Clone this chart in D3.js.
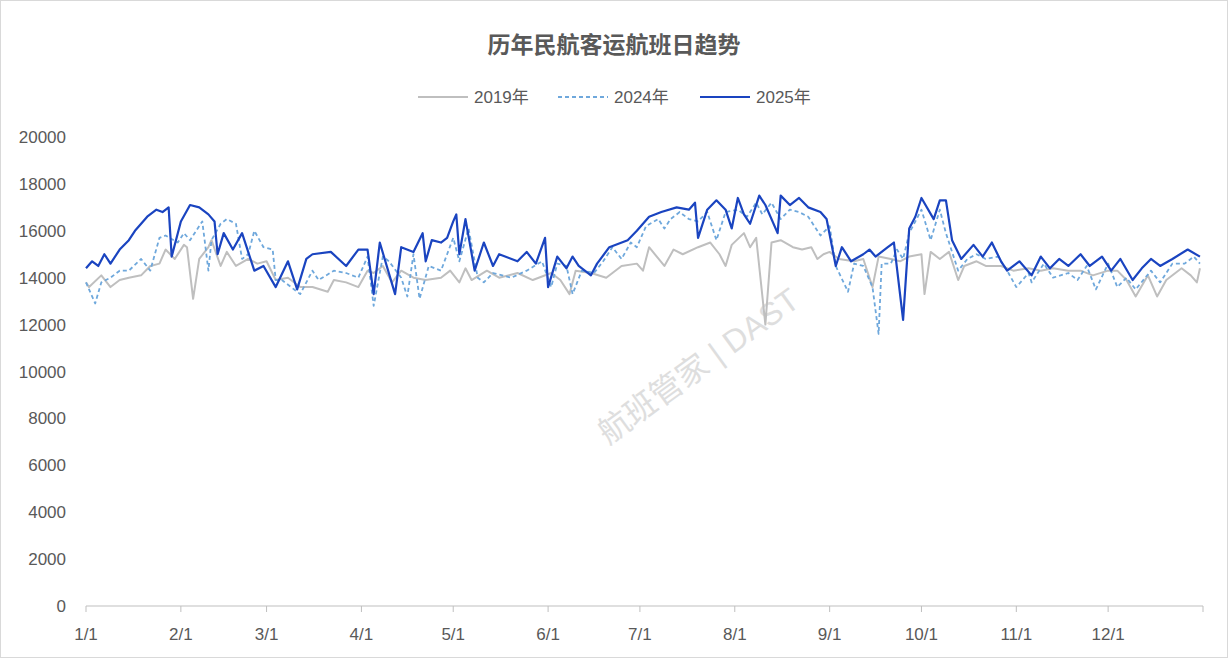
<!DOCTYPE html>
<html><head><meta charset="utf-8">
<script src="https://cdn.jsdelivr.net/npm/d3@7"></script>
<style>body{margin:0;background:#fff}text{font-family:"Liberation Sans","Noto Sans CJK SC",sans-serif}</style>
</head><body><svg id="c" width="1228" height="658"></svg>
<script>
// [day of year, flights]
const s2019 = [[0,13800],[1,13600],[5,14100],[8,13600],[11,13900],[14,14000],[18,14100],[21,14500],[24,14600],[26,15200],[29,14800],[32,15400],[33,15300],[35,13100],[37,14800],[40,15300],[41,15600],[44,14500],[46,15100],[49,14500],[53,14800],[56,14600],[59,14700],[62,13900],[66,14000],[70,13600],[74,13600],[79,13400],[81,13900],[85,13800],[89,13600],[92,14300],[94,14200],[97,14500],[100,13800],[103,14300],[107,14000],[111,13900],[116,14000],[119,14300],[122,13800],[124,14400],[126,13900],[131,14300],[135,14000],[141,14200],[146,13900],[152,14200],[155,13900],[158,13300],[160,14300],[165,14200],[170,14000],[175,14500],[180,14600],[182,14300],[184,15300],[189,14500],[192,15200],[195,15000],[200,15300],[204,15500],[207,15000],[209,14500],[211,15400],[215,15900],[217,15300],[219,15700],[222,12000],[224,15500],[227,15600],[231,15300],[234,15200],[237,15300],[239,14800],[241,15000],[243,15100],[246,14800],[251,14700],[254,14800],[257,13600],[259,14900],[263,14800],[266,14700],[269,14900],[273,15000],[274,13300],[276,15100],[279,14800],[282,15100],[285,13900],[287,14500],[291,14700],[294,14500],[299,14500],[303,14300],[308,14400],[312,14300],[316,14400],[321,14300],[325,14300],[329,14100],[334,14300],[337,14300],[340,13900],[343,13200],[347,14100],[350,13200],[353,13900],[358,14400],[361,14100],[363,13800],[364,14400]];
const s2024 = [[0,13800],[3,12900],[5,13800],[8,14000],[11,14300],[14,14300],[18,14800],[21,14300],[24,15700],[26,15800],[30,15500],[32,15900],[34,15600],[36,16000],[38,16400],[40,14300],[41,15600],[44,16300],[46,16500],[49,16300],[51,14800],[53,15000],[55,16000],[58,15300],[61,15200],[62,13900],[64,13900],[67,13600],[70,13300],[74,14300],[76,13900],[81,14300],[85,14200],[89,14000],[92,14900],[94,12800],[97,14900],[99,14700],[103,14000],[105,13200],[107,15000],[109,13100],[112,14500],[116,14300],[118,15000],[120,15700],[122,14700],[125,16100],[128,14000],[130,13800],[133,14200],[139,14000],[144,14300],[149,14700],[152,13600],[154,14600],[157,14500],[159,13300],[162,14300],[166,14200],[169,14700],[172,15300],[175,14800],[178,15500],[180,15300],[183,16200],[187,16500],[189,16100],[191,16500],[194,16800],[197,16500],[200,16400],[203,16800],[206,15600],[209,16800],[213,16900],[216,16600],[219,17200],[221,16700],[224,17200],[227,16500],[230,16900],[233,16800],[236,16600],[240,15800],[243,16200],[245,14500],[249,13400],[251,14600],[254,14500],[257,13600],[259,11600],[260,14600],[263,14600],[265,15200],[267,14800],[269,15900],[273,16900],[276,15600],[279,16900],[281,15900],[285,14300],[288,14800],[291,15000],[294,14800],[298,14900],[301,14300],[304,13600],[308,14200],[309,13800],[313,14600],[316,14000],[321,14200],[324,13900],[327,14500],[330,13500],[334,14600],[337,13600],[340,14000],[343,13500],[348,14300],[351,13800],[355,14600],[359,14600],[362,14900],[364,14600]];
const s2025 = [[0,14400],[2,14700],[4,14500],[6,15000],[8,14600],[11,15200],[14,15600],[16,16000],[20,16600],[23,16900],[25,16800],[27,17000],[28,14900],[31,16400],[34,17100],[37,17000],[40,16700],[42,16400],[43,15000],[45,15900],[48,15200],[51,15900],[55,14300],[58,14500],[62,13600],[66,14700],[69,13500],[72,14800],[74,15000],[80,15100],[85,14500],[89,15200],[92,15200],[94,13300],[96,15500],[101,13300],[103,15300],[107,15100],[110,15900],[111,14700],[113,15600],[116,15500],[118,15700],[120,16400],[121,16700],[122,15000],[124,16500],[127,14300],[130,15500],[133,14500],[135,15000],[141,14700],[144,15100],[147,14600],[150,15700],[151,13600],[154,14900],[157,14400],[159,14900],[161,14500],[165,14100],[167,14600],[171,15300],[177,15600],[180,16000],[184,16600],[188,16800],[193,17000],[197,16900],[199,17200],[200,15700],[203,16900],[206,17300],[209,16900],[211,16100],[213,17400],[215,16700],[217,16300],[220,17500],[222,17100],[226,15900],[227,17500],[230,17100],[233,17400],[236,17000],[240,16800],[242,16500],[245,14500],[247,15300],[250,14700],[254,15000],[256,15200],[258,14900],[262,15300],[264,15500],[267,12200],[269,16100],[271,16600],[273,17400],[277,16500],[279,17300],[281,17300],[283,15600],[286,14800],[290,15400],[293,14900],[296,15500],[299,14700],[301,14300],[305,14700],[309,14100],[312,14900],[315,14400],[318,14800],[321,14500],[325,15000],[328,14500],[332,14900],[335,14300],[338,14800],[342,13900],[345,14400],[348,14800],[351,14500],[355,14800],[360,15200],[364,14900]];
const monthStarts = [0,31,59,90,120,151,181,212,243,273,304,334];
const monthLabels = ["1/1","2/1","3/1","4/1","5/1","6/1","7/1","8/1","9/1","10/1","11/1","12/1"];
const yTicks = [0,2000,4000,6000,8000,10000,12000,14000,16000,18000,20000];

const svg = d3.select('#c');
const x = d3.scaleLinear().domain([0,365]).range([86,1203]);
const y = d3.scaleLinear().domain([0,20000]).range([606,137]);

svg.append('rect').attr('x',0.5).attr('y',0.5).attr('width',1227).attr('height',657)
  .attr('fill','none').attr('stroke','#d9d9d9');

svg.append('text').attr('x',614).attr('y',53).attr('text-anchor','middle')
  .attr('font-size',23).attr('font-weight','bold').attr('fill','#595959')
  .style('font-family','"Noto Sans CJK SC",sans-serif').text('历年民航客运航班日趋势');

// watermark
svg.append('text').attr('transform','translate(705,375) rotate(-36)').attr('text-anchor','middle')
  .attr('font-size',32).attr('fill','#dedede').text('航班管家 | DAST');

// y labels
svg.append('g').selectAll('text').data(yTicks).enter().append('text')
  .attr('x',66).attr('y',d => y(d)+6).attr('text-anchor','end')
  .attr('font-size',17).attr('fill','#595959').text(d => d);

// x axis
svg.append('line').attr('x1',x(0)).attr('x2',x(365)).attr('y1',606).attr('y2',606).attr('stroke','#bfbfbf');
svg.append('g').selectAll('line').data(monthStarts.concat([365])).enter().append('line')
  .attr('x1',d => x(d)).attr('x2',d => x(d)).attr('y1',606).attr('y2',612).attr('stroke','#bfbfbf');
svg.append('g').selectAll('text').data(monthStarts).enter().append('text')
  .attr('x',d => x(d)).attr('y',640).attr('text-anchor','middle')
  .attr('font-size',17).attr('fill','#595959').text((d,i) => monthLabels[i]);

const line = d3.line().x(d => x(d[0])).y(d => y(d[1]));
const series = [
  {name:'2019年', data:s2019, color:'#bfbfbf', dash:null, w:2},
  {name:'2024年', data:s2024, color:'#6fa8dc', dash:'4,3', w:1.8},
  {name:'2025年', data:s2025, color:'#1a44c0', dash:null, w:2.2}
];
series.forEach(s => {
  svg.append('path').attr('d', line(s.data)).attr('fill','none').attr('stroke',s.color)
    .attr('stroke-width',s.w).attr('stroke-dasharray',s.dash).attr('stroke-linejoin','round');
});

// legend
const lx = [418,558,700];
series.forEach((s,i) => {
  svg.append('line').attr('x1',lx[i]).attr('x2',lx[i]+50).attr('y1',97).attr('y2',97)
    .attr('stroke',s.color).attr('stroke-width',s.w).attr('stroke-dasharray',s.dash);
  svg.append('text').attr('x',lx[i]+56).attr('y',103).attr('font-size',17).attr('fill','#595959').text(s.name);
});
</script></body></html>
